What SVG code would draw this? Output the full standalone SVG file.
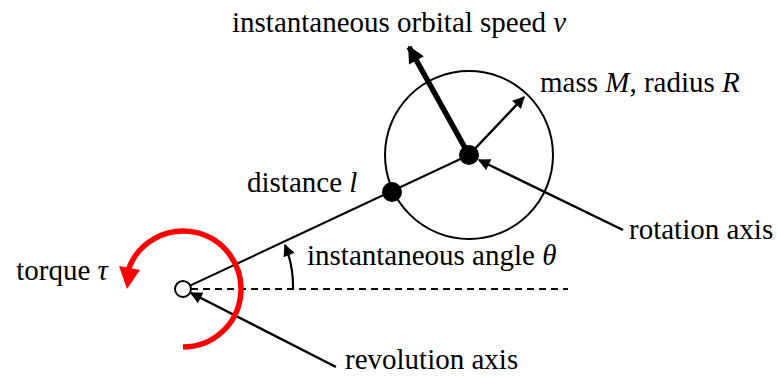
<svg xmlns="http://www.w3.org/2000/svg" width="777" height="377" viewBox="0 0 777 377">
<defs>
<style>
.t{font-family:'Liberation Serif','Times New Roman',serif;font-size:29px;fill:#000}
.m{font-style:italic}
</style>
<marker id="ah" viewBox="0 0 10 10" refX="9" refY="5" markerWidth="13" markerHeight="12" markerUnits="userSpaceOnUse" orient="auto">
<path d="M0,0 L10,5 L0,10 Z" fill="#000"/>
</marker>
<marker id="ahb" viewBox="0 0 10 10" refX="9" refY="5" markerWidth="19" markerHeight="17" markerUnits="userSpaceOnUse" orient="auto">
<path d="M0,0 L10,5 L0,10 Z" fill="#000"/>
</marker>
</defs>
<rect width="777" height="377" fill="#fff"/>
<g id="connectors" fill="none" stroke="#000">
<line x1="191" y1="289" x2="568" y2="289" stroke-width="1.8" stroke-dasharray="7,5"/>
<line x1="190" y1="285.7" x2="469" y2="155" stroke-width="2"/>
<path d="M293,289 A110,110 0 0 0 285,245" stroke-width="2.2" marker-end="url(#ah)"/>
<line x1="469" y1="155" x2="409" y2="47" stroke-width="5.5" marker-end="url(#ahb)"/>
<line x1="469" y1="155" x2="524" y2="97" stroke-width="2.5" marker-end="url(#ah)"/>
<line x1="623" y1="230" x2="479" y2="160" stroke-width="2.5" marker-end="url(#ah)"/>
<line x1="336" y1="367" x2="191" y2="293" stroke-width="2.5" marker-end="url(#ah)"/>
<path d="M183,347 A58,58 0 1 0 128.2,270" stroke="#f00" stroke-width="5.5"/>
<polygon points="119,266 140,270 127,289" fill="#f00" stroke="none"/>
</g>
<g id="body">
<circle cx="469" cy="155" r="84" fill="none" stroke="#000" stroke-width="2"/>
</g>
<g id="center"><circle cx="469" cy="155" r="10" fill="#000"/></g>
<g id="point"><circle cx="392" cy="192" r="10" fill="#000"/></g>
<g id="pivot"><circle cx="183" cy="289" r="8" fill="#fff" stroke="#000" stroke-width="2"/></g>
<g id="labels" font-family="'Liberation Serif','Times New Roman',serif" font-size="29">
<text class="t" x="232" y="32">instantaneous orbital speed <tspan class="m">v</tspan></text>
<text class="t" x="540" y="92">mass <tspan class="m">M</tspan>, radius <tspan class="m">R</tspan></text>
<text class="t" x="247" y="192">distance <tspan class="m">l</tspan></text>
<text class="t" x="307" y="265">instantaneous angle <tspan class="m">θ</tspan></text>
<text class="t" x="108" y="280" text-anchor="end">torque <tspan class="m">τ</tspan></text>
<text class="t" x="629" y="239">rotation axis</text>
<text class="t" x="345" y="369">revolution axis</text>
</g>
</svg>
